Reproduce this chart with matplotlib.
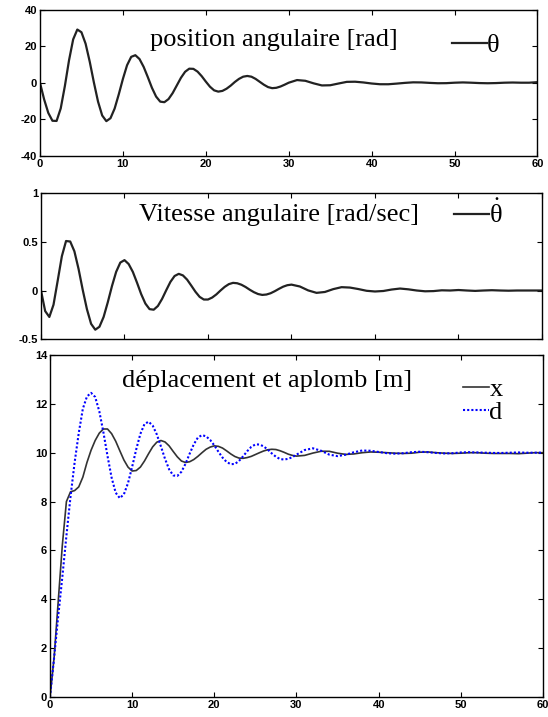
import numpy as np
import matplotlib
matplotlib.use("Agg")
import matplotlib.pyplot as plt

plt.rcParams['axes.unicode_minus'] = False
plt.rcParams['mathtext.fontset'] = 'custom'
plt.rcParams['mathtext.rm'] = 'Liberation Serif'
plt.rcParams['mathtext.it'] = 'Liberation Serif'

# time grid of the simulation (s)
t = np.concatenate([np.arange(0, 30, 0.5), np.arange(30, 61, 1.0)])

# position angulaire
theta = [0, -9.1, -16.5, -20.8, -20.9, -14.0, -1.7, 12.4, 23.9, 29.3,
         27.8, 21.5, 11.6, 0.2, -10.3, -17.9, -21.0, -19.4, -14.1, -6.3,
         2.2, 9.7, 14.3, 15.2, 13.1, 8.8, 3.2, -2.7, -7.5, -10.3,
         -10.6, -8.9, -5.6, -1.4, 2.8, 6.1, 7.8, 7.7, 6.2, 3.7,
         0.7, -2.1, -4.1, -4.8, -4.4, -3.2, -1.5, 0.5, 2.2, 3.4,
         3.8, 3.4, 2.2, 0.6, -1.0, -2.3, -2.9, -2.7, -2.0, -1.0,
         0.1, 1.55, 1.15, -0.25, -1.4, -1.3, -0.35, 0.56, 0.64, 0.24,
         -0.34, -0.74, -0.75, -0.4, 0.0, 0.3, 0.25, 0.0, -0.2, -0.15,
         0.1, 0.25, 0.1, -0.1, -0.2, -0.1, 0.1, 0.2, 0.1, 0.1, 0.4]

# vitesse angulaire
theta_dot = [0, -0.21, -0.27, -0.145, 0.10, 0.35, 0.505, 0.50, 0.40, 0.22,
             0.006, -0.19, -0.34, -0.40, -0.37, -0.27, -0.12, 0.045, 0.19, 0.285,
             0.31, 0.27, 0.19, 0.08, -0.037, -0.133, -0.19, -0.196, -0.158, -0.086,
             0.003, 0.088, 0.148, 0.17, 0.154, 0.111, 0.05, -0.013, -0.065, -0.092,
             -0.092, -0.072, -0.04, 0.0, 0.037, 0.065, 0.078, 0.074, 0.059, 0.036,
             0.008, -0.017, -0.036, -0.045, -0.041, -0.028, -0.007, 0.017, 0.039, 0.054,
             0.06, 0.041, 0.001, -0.024, -0.015, 0.014, 0.034, 0.030, 0.015, -0.003,
             -0.01, -0.005, 0.01, 0.02, 0.012, 0.0, -0.008, -0.006, 0.002, 0.0,
             0.005, 0.0, -0.004, 0.0, 0.003, 0.0, -0.002, 0.0, 0.0, 0.0, 0.0]

# deplacement x
x_pos = [0, 1.6, 3.9, 6.2, 8.0, 8.4, 8.45, 8.6, 9.0, 9.6,
         10.1, 10.5, 10.8, 10.97, 10.97, 10.78, 10.47, 10.08, 9.70, 9.41,
         9.25, 9.27, 9.41, 9.66, 9.96, 10.24, 10.43, 10.5, 10.44, 10.28,
         10.05, 9.83, 9.66, 9.6, 9.63, 9.72, 9.85, 10.0, 10.14, 10.23,
         10.28, 10.26, 10.19, 10.075, 9.95, 9.845, 9.78, 9.77, 9.80, 9.85,
         9.925, 10.0, 10.07, 10.12, 10.14, 10.13, 10.08, 10.015, 9.94, 9.89,
         9.86, 9.89, 9.985, 10.06, 10.057, 9.98, 9.93, 9.95, 10.0, 10.03,
         10.02, 10.0, 9.98, 9.97, 9.98, 10.02, 10.03, 10.0, 9.98, 9.97,
         9.98, 10.0, 10.0, 9.98, 9.97, 9.97, 9.97, 9.96, 9.98, 10.0, 10.0]

# aplomb d
d_pos = [0, 1.6, 3.3, 4.9, 6.6, 8.2, 9.6, 10.8, 11.8, 12.3,
         12.45, 12.28, 11.70, 10.84, 9.87, 8.98, 8.36, 8.14, 8.30, 8.76,
         9.42, 10.14, 10.77, 11.17, 11.27, 11.11, 10.75, 10.26, 9.75, 9.32,
         9.07, 9.05, 9.22, 9.55, 9.96, 10.34, 10.62, 10.72, 10.67, 10.52,
         10.30, 10.04, 9.80, 9.62, 9.53, 9.54, 9.66, 9.85, 10.06, 10.24,
         10.34, 10.335, 10.26, 10.13, 9.97, 9.835, 9.74, 9.72, 9.75, 9.82,
         9.92, 10.11, 10.18, 10.08, 9.92, 9.86, 9.92, 10.02, 10.09, 10.08,
         10.03, 9.98, 9.96, 9.98, 10.02, 10.04, 10.02, 9.99, 9.97, 9.98,
         10.01, 10.02, 10.01, 10.0, 9.99, 9.99, 10.0, 10.01, 10.0, 10.0, 10.0]

xticks = [0, 10, 20, 30, 40, 50, 60]
yticks1 = [-40, -20, 0, 20, 40]
yticks2 = [-0.5, 0, 0.5, 1]
ylabels2 = ['-0.5', '0', '0.5', '1']
yticks3 = [0, 2, 4, 6, 8, 10, 12, 14]

serif = {'family': 'Liberation Serif', 'size': 19}

fig = plt.figure(figsize=(5.48, 7.17), dpi=100)
ax1 = fig.add_axes([0.0730, 0.7828, 0.9078, 0.2032])
ax2 = fig.add_axes([0.0748, 0.5265, 0.9142, 0.2050])
ax3 = fig.add_axes([0.0912, 0.0279, 0.8996, 0.4770])


def style(ax):
    ax.tick_params(direction='in', length=3.5, width=0.8, top=True, right=True,
                   labelsize=8, pad=2, colors='black')
    for lab in ax.get_xticklabels() + ax.get_yticklabels():
        lab.set_fontfamily('Liberation Sans')
        lab.set_fontweight('bold')
    for sp in ax.spines.values():
        sp.set_linewidth(1.0)


# --- position angulaire
l1, = ax1.plot(t, theta, color='#222222', lw=1.6)
ax1.set_xlim(0, 60)
ax1.set_ylim(-40, 40)
ax1.set_xticks(xticks)
ax1.set_yticks(yticks1)
style(ax1)
ax1.text(0.221, 0.794, 'position angulaire [rad]', transform=ax1.transAxes,
         va='center', ha='left', fontdict=serif)
ax1.legend([l1], ['θ'], loc='center left', bbox_to_anchor=(0.828, 0.76),
           frameon=False, prop=serif, handlelength=1.33, handletextpad=0.0,
           borderpad=0, borderaxespad=0)

# --- vitesse angulaire
l2, = ax2.plot(t, theta_dot, color='#222222', lw=1.6)
ax2.set_xlim(0, 60)
ax2.set_ylim(-0.5, 1)
ax2.set_xticks(xticks)
ax2.set_yticks(yticks2)
ax2.set_yticklabels(ylabels2)
ax2.tick_params(labelbottom=False)
style(ax2)
ax2.text(0.196, 0.847, 'Vitesse angulaire [rad/sec]', transform=ax2.transAxes,
         va='center', ha='left', fontdict=serif)
ax2.legend([l2], [r'$\dot{\theta}$'], loc='center left', bbox_to_anchor=(0.824, 0.855),
           frameon=False, prop=serif, handlelength=1.33, handletextpad=0.0,
           borderpad=0, borderaxespad=0)

# --- deplacement et aplomb
l3, = ax3.plot(t, x_pos, color='#333333', lw=1.2)
l4, = ax3.plot(t, d_pos, color='blue', lw=1.5, linestyle=(0, (1, 1)))
ax3.set_xlim(0, 60)
ax3.set_ylim(0, 14)
ax3.set_xticks(xticks)
ax3.set_yticks(yticks3)
style(ax3)
ax3.text(0.146, 0.924, 'déplacement et aplomb [m]', transform=ax3.transAxes,
         va='center', ha='left', fontdict=serif)
ax3.legend([l3, l4], ['x', 'd'], loc='center left', bbox_to_anchor=(0.838, 0.866),
           frameon=False, prop=serif, handlelength=1.0, handletextpad=0.0,
           borderpad=0, borderaxespad=0, labelspacing=0.0)

fig.savefig('out.png', dpi=100)
